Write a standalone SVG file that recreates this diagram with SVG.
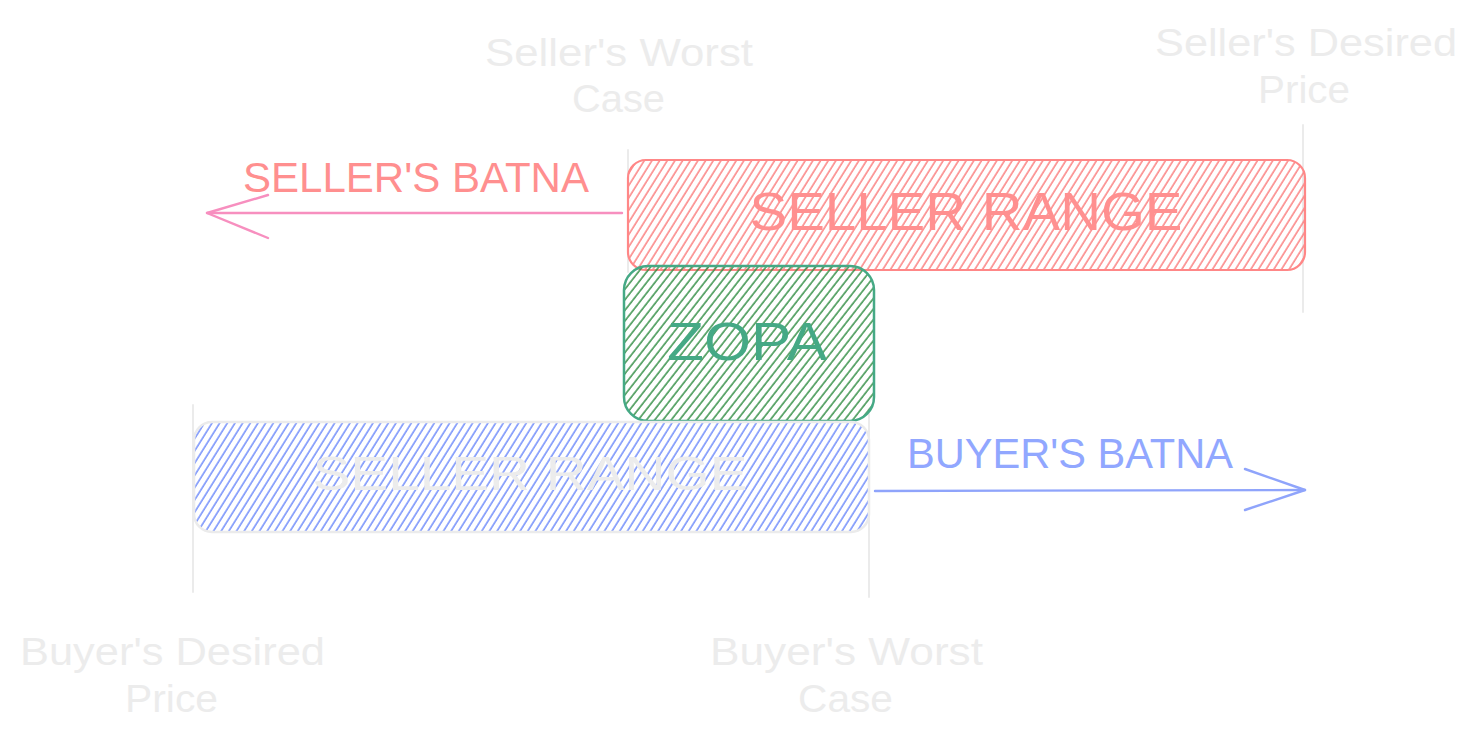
<svg xmlns="http://www.w3.org/2000/svg" width="1477" height="749" viewBox="0 0 1477 749">
<style>
.lbl{font-family:"Liberation Sans","DejaVu Sans",sans-serif;}
.guide{stroke:#ebebeb;stroke-width:2;fill:none;stroke-linecap:round;}
.gray{fill:#ececec;font-size:38px;}
</style>
<defs>
<pattern id="hRed" patternUnits="userSpaceOnUse" width="6.5" height="20" patternTransform="rotate(32)">
<line x1="1" y1="0" x2="1" y2="20" stroke="#fa6e6e" stroke-width="1.3"/>
</pattern>
<pattern id="hGreen" patternUnits="userSpaceOnUse" width="6.5" height="20" patternTransform="rotate(38)">
<line x1="1" y1="0" x2="1" y2="20" stroke="#2b8a3e" stroke-width="1.4"/>
</pattern>
<pattern id="hBlue" patternUnits="userSpaceOnUse" width="6.5" height="20" patternTransform="rotate(32)">
<line x1="1" y1="0" x2="1" y2="20" stroke="#5c7cfa" stroke-width="1.3"/>
</pattern>
</defs>
<g id="guides">
<line class="guide" x1="628" y1="150" x2="628" y2="272"/>
<line class="guide" x1="1303" y1="125" x2="1303" y2="312"/>
<line class="guide" x1="193" y1="405" x2="193" y2="592"/>
<line class="guide" x1="869" y1="410" x2="869" y2="597"/>
</g>
<g id="seller-range">
<rect x="628" y="160" width="677" height="110" rx="18" fill="url(#hRed)" stroke="#ff8787" stroke-width="2.2"/>
<text class="lbl" x="966" y="230" text-anchor="middle" font-size="53" fill="#ff9090" textLength="433" lengthAdjust="spacingAndGlyphs">SELLER RANGE</text>
</g>
<g id="zopa">
<rect x="624" y="266" width="250" height="155" rx="24" fill="url(#hGreen)" stroke="#45a985" stroke-width="2.5"/>
<text class="lbl" x="747" y="360" text-anchor="middle" font-size="53" fill="#45a985" textLength="160" lengthAdjust="spacingAndGlyphs">ZOPA</text>
</g>
<g id="buyer-range">
<rect x="194" y="422" width="675" height="110" rx="18" fill="url(#hBlue)" stroke="#ebebeb" stroke-width="2.5"/>
<text class="lbl" x="530" y="490" text-anchor="middle" font-size="49" fill="#ececec" textLength="435" lengthAdjust="spacingAndGlyphs">SELLER RANGE</text>
</g>
<g id="connectors" fill="none" stroke-linecap="round" stroke-linejoin="round">
<g id="sellers-batna-arrow" stroke="#f78fbf" stroke-width="2.4">
<path d="M622 213 L207 213"/>
<path d="M268 195 L207 213 L268 238"/>
</g>
<g id="buyers-batna-arrow" stroke="#8fa4fb" stroke-width="2.4">
<path d="M875 491 L1305 490"/>
<path d="M1245 469 L1305 490 L1245 510"/>
</g>
</g>
<g id="sellers-batna-label">
<text class="lbl" x="243" y="192" font-size="42" fill="#ff8f8f" textLength="346" lengthAdjust="spacingAndGlyphs">SELLER'S BATNA</text>
</g>
<g id="buyers-batna-label">
<text class="lbl" x="907" y="468" font-size="43" fill="#91a7ff" textLength="326" lengthAdjust="spacingAndGlyphs">BUYER'S BATNA</text>
</g>
<g id="sellers-worst-case">
<text class="lbl gray" x="485" y="66" textLength="268" lengthAdjust="spacingAndGlyphs">Seller's Worst</text>
<text class="lbl gray" x="572" y="112" textLength="93" lengthAdjust="spacingAndGlyphs">Case</text>
</g>
<g id="sellers-desired-price">
<text class="lbl gray" x="1155" y="56" textLength="302" lengthAdjust="spacingAndGlyphs">Seller's Desired</text>
<text class="lbl gray" x="1258" y="103" textLength="92" lengthAdjust="spacingAndGlyphs">Price</text>
</g>
<g id="buyers-desired-price">
<text class="lbl gray" x="20" y="665" textLength="305" lengthAdjust="spacingAndGlyphs">Buyer's Desired</text>
<text class="lbl gray" x="125" y="712" textLength="93" lengthAdjust="spacingAndGlyphs">Price</text>
</g>
<g id="buyers-worst-case">
<text class="lbl gray" x="710" y="665" textLength="273" lengthAdjust="spacingAndGlyphs">Buyer's Worst</text>
<text class="lbl gray" x="798" y="712" textLength="95" lengthAdjust="spacingAndGlyphs">Case</text>
</g>
</svg>
